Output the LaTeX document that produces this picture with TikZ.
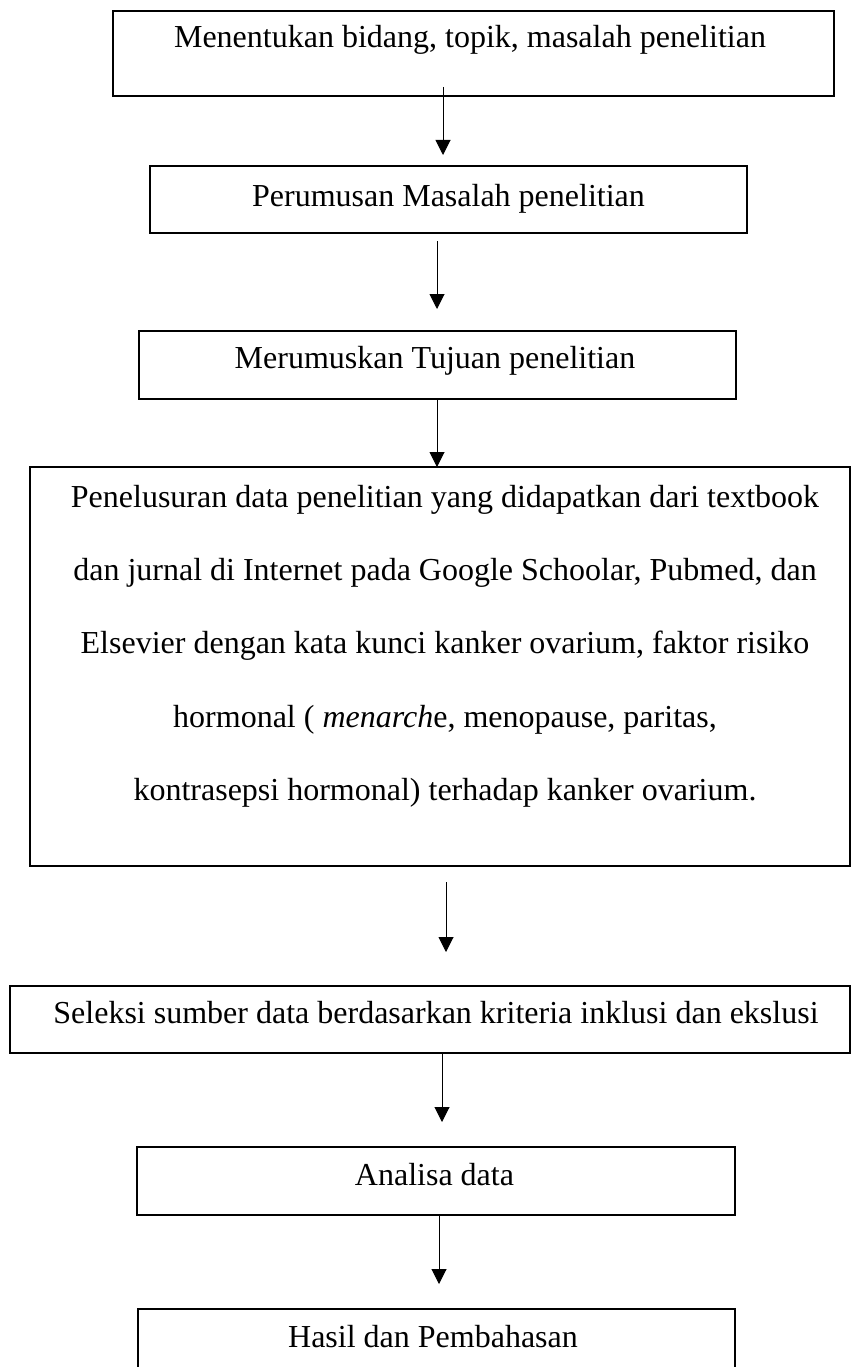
\documentclass[tikz,border=0pt]{standalone}
\usepackage{fontspec}
\setmainfont{Liberation Serif}
\usetikzlibrary{arrows.meta}
\begin{document}
\begin{tikzpicture}[x=1pt,y=-1pt,
  box/.style={draw, line width=1.1pt, inner sep=0pt, outer sep=0pt},
  txt/.style={anchor=base, inner sep=0pt, font=\fontsize{32}{38}\selectfont},
  arr/.style={line width=1pt, -{Triangle[width=15pt,length=15pt]}}]
\useasboundingbox (0,0) rectangle (851,1367);
\clip (0,0) rectangle (851,1367);
\fill[white] (0,0) rectangle (851,1367);
% boxes
\node[box, minimum width=721pt, minimum height=85pt] (b1) at (473.5,53.5) {};
\node[box, minimum width=597pt, minimum height=67pt] (b2) at (448.5,199.5) {};
\node[box, minimum width=597pt, minimum height=68pt] (b3) at (437.5,365) {};
\node[box, minimum width=820pt, minimum height=399pt] (b4) at (440,666.5) {};
\node[box, minimum width=840pt, minimum height=67pt] (b5) at (430,1019.5) {};
\node[box, minimum width=598pt, minimum height=68pt] (b6) at (436,1181) {};
\node[box, minimum width=597pt, minimum height=71pt] (b7) at (436.5,1344.5) {};
% texts
\node[txt] (t1) at (470,48) {Menentukan bidang, topik, masalah penelitian};
\node[txt] (t2) at (448.5,206) {Perumusan Masalah penelitian};
\node[txt] (t3) at (435,368) {Merumuskan Tujuan penelitian};
\node[txt] (t4a) at (445,507) {Penelusuran data penelitian yang didapatkan dari textbook};
\node[txt] (t4b) at (445,580) {dan jurnal di Internet pada Google Schoolar, Pubmed, dan};
\node[txt] (t4c) at (445,653) {Elsevier dengan kata kunci kanker ovarium, faktor risiko};
\node[txt] (t4d) at (445,727) {hormonal ( \textit{menarch}e, menopause, paritas,};
\node[txt] (t4e) at (445,800) {kontrasepsi hormonal) terhadap kanker ovarium.};
\node[txt] (t5) at (436,1023) {Seleksi sumber data berdasarkan kriteria inklusi dan ekslusi};
\node[txt] (t6) at (434.5,1185) {Analisa data};
\node[txt] (t7) at (433,1347) {Hasil dan Pembahasan};
% connector ends
\coordinate (a1s) at (443,87);   \coordinate (a1e) at (443,155);
\coordinate (a2s) at (437,241);  \coordinate (a2e) at (437,309);
\coordinate (a3s) at (437,399);  \coordinate (a3e) at (437,467);
\coordinate (a4s) at (446,882);  \coordinate (a4e) at (446,952);
\coordinate (a5s) at (442,1053); \coordinate (a5e) at (442,1122);
\coordinate (a6s) at (439,1215); \coordinate (a6e) at (439,1284);
\draw[arr] (a1s) -- (a1e);
\draw[arr] (a2s) -- (a2e);
\draw[arr] (a3s) -- (a3e);
\draw[arr] (a4s) -- (a4e);
\draw[arr] (a5s) -- (a5e);
\draw[arr] (a6s) -- (a6e);
\end{tikzpicture}
\end{document}
